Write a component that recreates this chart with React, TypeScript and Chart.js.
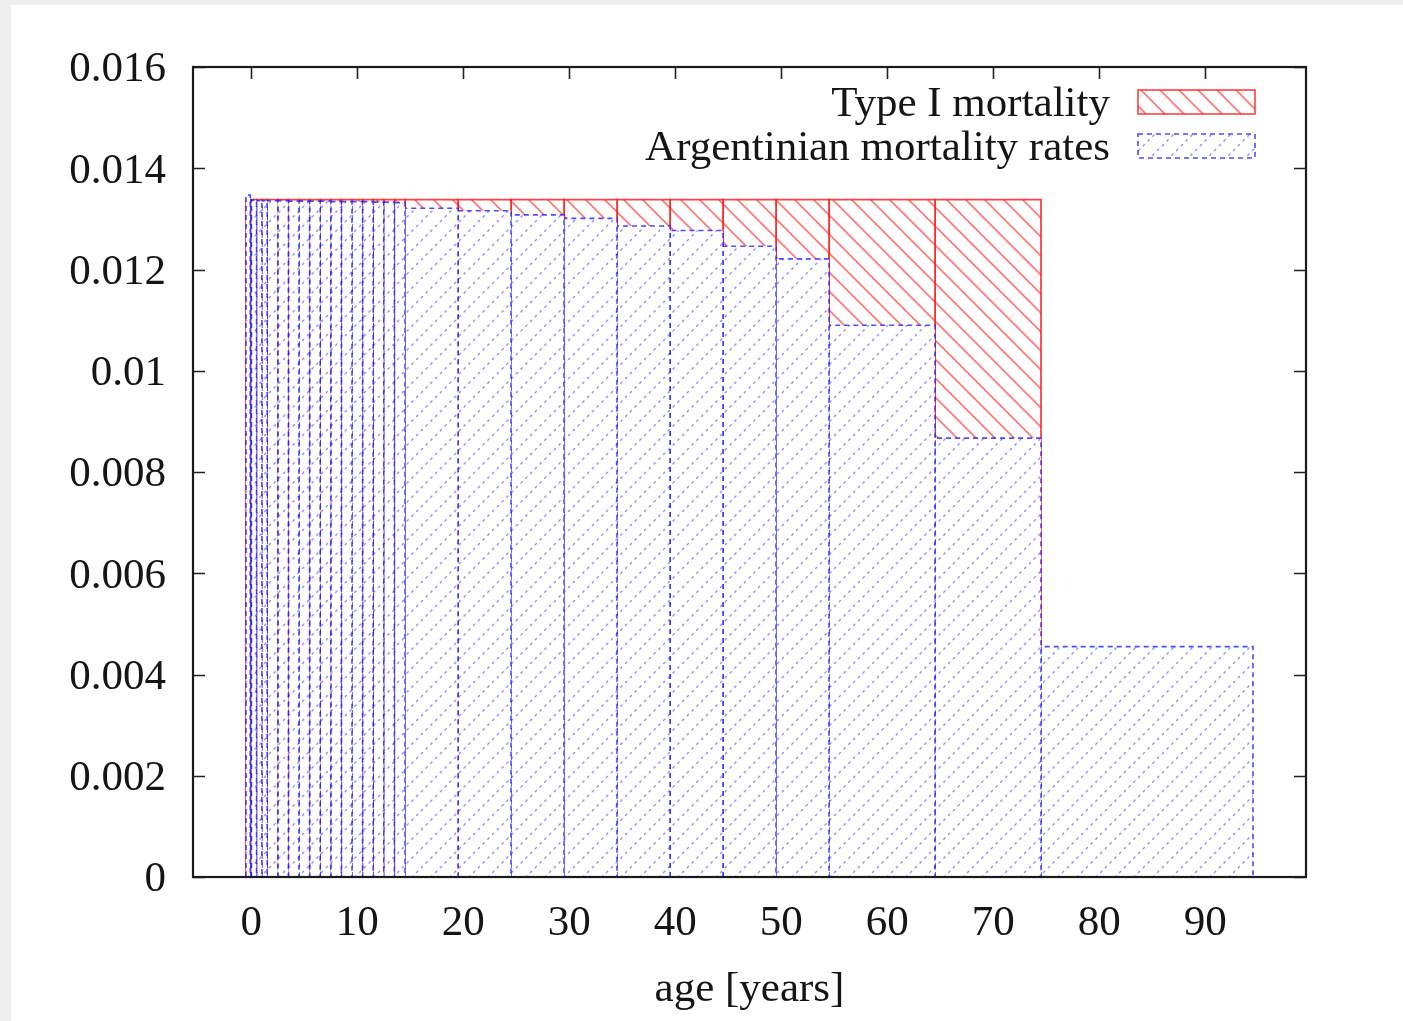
import React, { useEffect, useRef } from "react";
import { Chart, registerables } from "chart.js";
Chart.register(...registerables);

// ---- data ----
const BIN_EDGES = [
  -0.5, -0.1, 0, 0.5, 1, 1.5, 2.5, 3.5, 4.5, 5.5, 6.5, 7.5, 8.5, 9.5, 10.5,
  11.5, 12.5, 13.5, 14.5, 19.5, 24.5, 29.5, 34.5, 39.5, 44.5, 49.5, 54.5,
  64.5, 74.5, 94.5,
];
const ARGENTINIAN = [
  0.01347, 0.01337, 0.01337, 0.01336, 0.01336, 0.01336, 0.01336, 0.01335,
  0.01335, 0.01335, 0.01335, 0.01334, 0.01334, 0.01334, 0.01334, 0.01333,
  0.01333, 0.01332, 0.01321, 0.01316, 0.01308, 0.01301, 0.01286, 0.01277,
  0.01246, 0.01221, 0.0109, 0.00867, 0.00455,
];
const TYPE_I = [
  0.01338, 0.01338, 0.01338, 0.01338, 0.01338, 0.01338, 0.01338, 0.01338,
  0.01338, 0.01338, 0.01338, 0.01338, 0.01338, 0.01338, 0.01338, 0.01338,
  0.01338, 0.01338, 0.01338, 0.01338, 0.01338, 0.01338, 0.01338, 0.01338,
  0.01338, 0.01338, 0.01338, 0.01338, 0,
];
const SERIES_NAMES = ["Type I mortality", "Argentinian mortality rates"];
const X_TICKS = [0, 10, 20, 30, 40, 50, 60, 70, 80, 90];
const Y_TICKS = [0, 0.002, 0.004, 0.006, 0.008, 0.01, 0.012, 0.014, 0.016];
const Y_LABELS = ["0", "0.002", "0.004", "0.006", "0.008", "0.01", "0.012", "0.014", "0.016"];
const X_TITLE = "age [years]";

const FONT_FAMILY = '"Liberation Serif", "Times New Roman", serif';
const FONT_SIZE = 43;
const TEXT_COLOR = "#151515";

function makePattern(kind: "red" | "blue"): CanvasPattern | string {
  const s = 19;
  const c = document.createElement("canvas");
  c.width = s;
  c.height = s;
  const g = c.getContext("2d");
  if (!g) return "#fff";
  g.fillStyle = "#ffffff";
  g.fillRect(0, 0, s, s);
  if (kind === "red") {
    g.strokeStyle = "rgba(255,30,30,0.6)";
    g.lineWidth = 1.7;
    for (const off of [-s, 0, s]) {
      g.beginPath();
      g.moveTo(off - 1, -1);
      g.lineTo(off + s + 1, s + 1);
      g.stroke();
    }
  } else {
    g.strokeStyle = "rgba(40,40,255,0.5)";
    g.lineWidth = 1.5;
    g.lineCap = "round";
    const n = 4;
    const d = 0.55; // half dash length along each axis
    for (const off of [-s, 0, s]) {
      for (let k = 0; k < n; k++) {
        const t = ((k + 0.5) / n) * s;
        const x = off + t;
        const y = s - t;
        g.beginPath();
        g.moveTo(x - d, y + d);
        g.lineTo(x + d, y - d);
        g.stroke();
      }
    }
  }
  return g.createPattern(c, "repeat") || "#fff";
}

export default function App() {
  const ref = useRef<HTMLCanvasElement | null>(null);

  useEffect(() => {
    if (!ref.current) return;
    const redPat = makePattern("red");
    const bluePat = makePattern("blue");
    const RED_BORDER = "rgba(255,30,30,0.85)";
    const BLUE_BORDER = "rgba(30,30,255,0.8)";

    const datasets: any[] = [];
    for (let i = 0; i < BIN_EDGES.length - 1; i++) {
      const x0 = BIN_EDGES[i];
      const x1 = BIN_EDGES[i + 1];
      const v = TYPE_I[i];
      if (v > 0) {
        datasets.push({
          label: SERIES_NAMES[0],
          data: [
            { x: x0, y: 0 },
            { x: x0, y: v },
            { x: x1, y: v },
            { x: x1, y: 0 },
          ],
          borderColor: RED_BORDER,
          borderWidth: 1.8,
          backgroundColor: redPat,
          fill: "origin",
          pointRadius: 0,
          tension: 0,
          order: 2,
        });
      }
    }
    for (let i = 0; i < BIN_EDGES.length - 1; i++) {
      const x0 = BIN_EDGES[i];
      const x1 = BIN_EDGES[i + 1];
      const v = ARGENTINIAN[i];
      datasets.push({
        label: SERIES_NAMES[1],
        data: [
          { x: x0, y: 0 },
          { x: x0, y: v },
          { x: x1, y: v },
          { x: x1, y: 0 },
        ],
        borderColor: BLUE_BORDER,
        borderWidth: 1.6,
        borderDash: [5, 4],
        backgroundColor: bluePat,
        fill: "origin",
        pointRadius: 0,
        tension: 0,
        order: 1,
      });
    }

    const font = { family: FONT_FAMILY, size: FONT_SIZE };

    const frameTicks = {
      id: "frameTicks",
      beforeDatasetsDraw(chart: any) {
        const { ctx, chartArea: a, scales } = chart;
        const L = 12;
        ctx.save();
        ctx.strokeStyle = "#222";
        ctx.lineWidth = 1.6;
        ctx.beginPath();
        for (const t of scales.y.ticks) {
          const y = Math.round(scales.y.getPixelForValue(t.value)) + 0.5;
          ctx.moveTo(a.left, y);
          ctx.lineTo(a.left + L, y);
          ctx.moveTo(a.right, y);
          ctx.lineTo(a.right - L, y);
        }
        for (const t of scales.x.ticks) {
          const x = Math.round(scales.x.getPixelForValue(t.value)) + 0.5;
          ctx.moveTo(x, a.top);
          ctx.lineTo(x, a.top + L);
          ctx.moveTo(x, a.bottom);
          ctx.lineTo(x, a.bottom - L);
        }
        ctx.stroke();
        ctx.restore();
      },
      afterDatasetsDraw(chart: any) {
        const { ctx, chartArea: a } = chart;
        ctx.save();
        ctx.strokeStyle = "#1a1a1a";
        ctx.lineWidth = 2.2;
        ctx.strokeRect(a.left, a.top, a.right - a.left, a.bottom - a.top);
        ctx.restore();
      },
      afterDraw(chart: any) {
        const { ctx, chartArea: a } = chart;
        ctx.save();
        ctx.font = `${FONT_SIZE}px ${FONT_FAMILY}`;
        ctx.fillStyle = TEXT_COLOR;
        ctx.textAlign = "right";
        ctx.textBaseline = "middle";
        const textRight = a.right - 196;
        const boxLeft = a.right - 168;
        const boxW = 117;
        const boxH = 24;
        const rows = [a.top + 35, a.top + 79];
        const pats = [redPat, bluePat];
        const borders = [RED_BORDER, BLUE_BORDER];
        for (let i = 0; i < 2; i++) {
          ctx.fillStyle = TEXT_COLOR;
          ctx.fillText(SERIES_NAMES[i], textRight, rows[i] + 3);
          ctx.fillStyle = pats[i] as any;
          ctx.fillRect(boxLeft, rows[i] - boxH / 2, boxW, boxH);
          ctx.strokeStyle = borders[i];
          ctx.lineWidth = 1.6;
          ctx.setLineDash(i === 1 ? [5, 4] : []);
          ctx.strokeRect(boxLeft, rows[i] - boxH / 2, boxW, boxH);
        }
        ctx.restore();
      },
    };

    const chart = new Chart(ref.current, {
      type: "line",
      data: { datasets },
      options: {
        animation: false,
        responsive: false,
        events: [],
        layout: { padding: { top: 62, right: 97, left: 0, bottom: 0 } },
        plugins: {
          legend: { display: false },
          tooltip: { enabled: false },
        },
        scales: {
          x: {
            type: "linear",
            min: -5.5,
            max: 99.5,
            grid: { display: false, drawTicks: false },
            border: { display: false },
            afterBuildTicks: (s: any) => {
              s.ticks = X_TICKS.map((v) => ({ value: v }));
            },
            afterFit: (s: any) => {
              s.height = 144;
            },
            ticks: {
              font,
              color: TEXT_COLOR,
              padding: 21,
              maxRotation: 0,
              autoSkip: false,
              callback: (v: any) => String(v),
            },
            title: {
              display: true,
              text: X_TITLE,
              font,
              color: TEXT_COLOR,
              padding: { top: 0, bottom: 5 },
            },
          },
          y: {
            type: "linear",
            min: 0,
            max: 0.016,
            grid: { display: false, drawTicks: false },
            border: { display: false },
            afterBuildTicks: (s: any) => {
              s.ticks = Y_TICKS.map((v) => ({ value: v }));
            },
            afterFit: (s: any) => {
              s.width = 182;
            },
            ticks: {
              font,
              color: TEXT_COLOR,
              padding: 27,
              labelOffset: 3,
              autoSkip: false,
              callback: (v: any) => {
                const idx = Y_TICKS.findIndex((t) => Math.abs(t - v) < 1e-9);
                return idx >= 0 ? Y_LABELS[idx] : "";
              },
            },
          },
        },
      } as any,
      plugins: [frameTicks],
    });
    return () => chart.destroy();
  }, []);

  return (
    <div
      style={{
        position: "fixed",
        left: 0,
        top: 0,
        width: 1403,
        height: 1021,
        background: "#eeeeee",
        overflow: "hidden",
      }}
    >
      <div
        style={{
          position: "absolute",
          left: 11,
          top: 5,
          width: 1392,
          height: 1016,
          background: "#ffffff",
        }}
      >
        <canvas ref={ref} width={1392} height={1016} style={{ display: "block" }} />
      </div>
    </div>
  );
}
